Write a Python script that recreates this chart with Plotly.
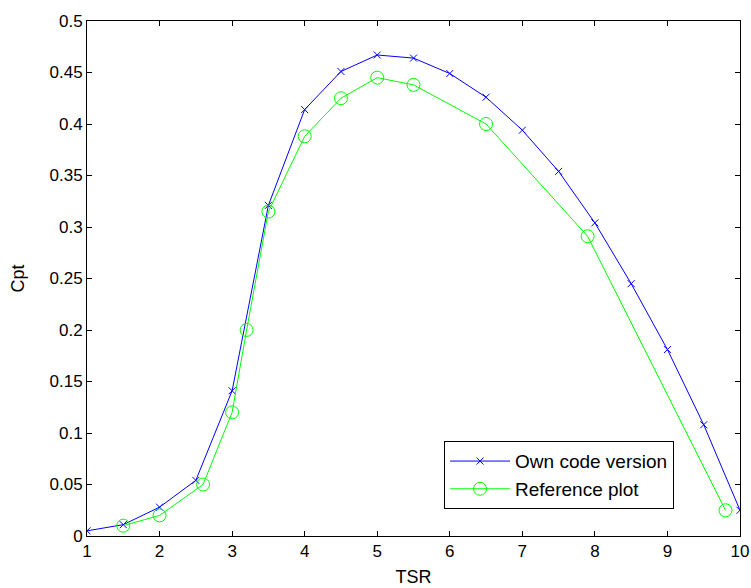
import plotly.graph_objects as go

tsr_own = [1, 1.5, 2, 2.5, 3, 3.5, 4, 4.5, 5, 5.5, 6, 6.5, 7, 7.5, 8, 8.5, 9, 9.5, 10]
cpt_own = [0.005, 0.011, 0.028, 0.054, 0.141, 0.321, 0.414, 0.451, 0.467, 0.464,
           0.449, 0.426, 0.394, 0.354, 0.304, 0.245, 0.181, 0.108, 0.025]

tsr_ref = [1.5, 2, 2.6, 3, 3.2, 3.5, 4, 4.5, 5, 5.5, 6.5, 7.9, 9.8]
cpt_ref = [0.010, 0.020, 0.050, 0.120, 0.200, 0.315, 0.388, 0.425, 0.445, 0.438,
           0.400, 0.291, 0.025]

x_ticks = [1, 2, 3, 4, 5, 6, 7, 8, 9, 10]
y_ticks = [0, 0.05, 0.1, 0.15, 0.2, 0.25, 0.3, 0.35, 0.4, 0.45, 0.5]
y_ticklabels = ["0", "0.05", "0.1", "0.15", "0.2", "0.25", "0.3", "0.35", "0.4", "0.45", "0.5"]

fig = go.Figure()
fig.add_trace(go.Scatter(
    x=tsr_own, y=cpt_own, mode="lines+markers", name="Own code version",
    line=dict(color="#0000FF", width=1),
    marker=dict(symbol="x-thin-open", size=7, color="#0000FF",
                line=dict(color="#0000FF", width=1)),
))
fig.add_trace(go.Scatter(
    x=tsr_ref, y=cpt_ref, mode="lines+markers", name="Reference plot",
    line=dict(color="#00FF00", width=1),
    marker=dict(symbol="circle-open", size=13, color="#00FF00",
                line=dict(color="#00FF00", width=1)),
))

font = "Liberation Sans, Arial, sans-serif"
fig.update_layout(
    width=751, height=588,
    margin=dict(l=87, r=11, t=21, b=52),
    paper_bgcolor="white", plot_bgcolor="white",
    font=dict(family=font, size=17, color="black"),
    showlegend=True,
    legend=dict(
        x=0.899, y=0.052, xanchor="right", yanchor="bottom",
        bordercolor="black", borderwidth=1, bgcolor="white",
        font=dict(size=19, family=font), itemwidth=60,
        tracegroupgap=0,
    ),
    xaxis=dict(
        range=[1, 10], tickvals=x_ticks, ticktext=[str(v) for v in x_ticks],
        ticks="inside", ticklen=5, tickcolor="black", showgrid=False, zeroline=False,
        showline=True, linecolor="black", linewidth=1, mirror="ticks",
        automargin=False,
        title=dict(text="TSR", standoff=9, font=dict(size=18)),
        tickfont=dict(size=17),
    ),
    yaxis=dict(
        range=[0, 0.5], tickvals=y_ticks, ticktext=y_ticklabels,
        ticks="inside", ticklen=5, tickcolor="black", showgrid=False, zeroline=False,
        showline=True, linecolor="black", linewidth=1, mirror="ticks",
        automargin=False,
        title=dict(text="Cpt", standoff=20, font=dict(size=18)),
        tickfont=dict(size=17),
    ),
)

fig.write_html("out.html")
